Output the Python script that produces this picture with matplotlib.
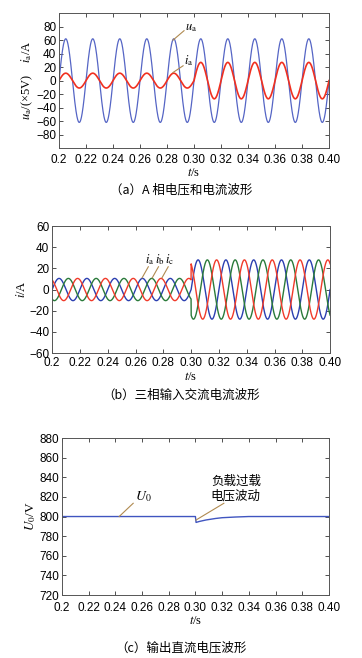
import numpy as np
import matplotlib
matplotlib.use("Agg")
import matplotlib.pyplot as plt

plt.rcParams["font.family"] = ["Liberation Sans", "Noto Sans CJK SC", "DejaVu Sans"]
plt.rcParams["mathtext.fontset"] = "stix"

# ---- data ----
freq = 50.0                     # Hz
t_step = 0.30                   # load step time (s)
ua_amp = 62.0                   # u_a amplitude (x5 V)
ia_amp = [11.0, 27.0]           # i_a amplitude before / after step (A)
iabc_amp = [10.5, 28.0]         # three-phase current amplitude before / after (A)
phase_shift = [0.0, -120.0, -240.0]   # a, b, c (deg)
phase_colors = ["#2b3fb0", "#2a7a3a", "#f03a2a"]

dc_t = [0.20, 0.300, 0.3005, 0.303, 0.308, 0.315, 0.320, 0.330, 0.340, 0.40]
dc_u = [800.0, 800.0, 794.0, 795.0, 796.5, 798.0, 798.8, 799.5, 800.0, 800.0]

xticks = [0.20, 0.22, 0.24, 0.26, 0.28, 0.30, 0.32, 0.34, 0.36, 0.38, 0.40]
xticklabels = ["0.2", "0.22", "0.24", "0.26", "0.28", "0.30", "0.32", "0.34", "0.36", "0.38", "0.40"]

t = np.linspace(0.2, 0.4, 4001)
w = 2 * np.pi * freq


def wave(amps, shift_deg):
    a = np.where(t < t_step, amps[0], amps[1])
    return a * np.sin(w * (t - 0.2) + np.deg2rad(shift_deg))


def lab(v):
    return f"{v:g}".replace("-", "\u2212")


def style(ax, yt, ylim, xpad=4):
    ax.set_xlim(0.2, 0.4)
    ax.set_ylim(*ylim)
    ax.set_xticks(xticks)
    ax.set_xticklabels(xticklabels)
    ax.set_yticks(yt)
    ax.set_yticklabels([lab(v) for v in yt])
    ax.tick_params(direction="in", top=True, right=True, length=3, width=0.6,
                   labelsize=8.5, pad=2, colors="#333333", labelcolor="black")
    ax.tick_params(axis="x", pad=xpad)
    for s in ax.spines.values():
        s.set_color("#555555")
        s.set_linewidth(0.7)
    ax.set_xlabel(r"$t$/s", fontsize=9, labelpad=1, family="Liberation Serif")


ann_c = "#b08a50"
cjk = ["Noto Sans CJK SC", "DejaVu Sans"]
fig = plt.figure(figsize=(3.62, 6.58), dpi=100)

# (a)
ax1 = fig.add_axes([0.163, 0.775, 0.746, 0.205])
ax1.plot(t, ua_amp * np.sin(w * (t - 0.2)), color="#5565c5", lw=0.9)
ax1.plot(t, wave(ia_amp, 0.0), color="#f03020", lw=1.2)
style(ax1, np.arange(-80, 81, 20), (-100, 100))
ax1.set_ylabel(r"$u_{\rm a}$/(×5V)    $i_{\rm a}$/A", fontsize=9, labelpad=1,
               family="Liberation Serif")
ax1.plot([0.2844, 0.2926], [60, 74], color=ann_c, lw=0.8)
ax1.text(0.2935, 75, r"$u_{\rm a}$", fontsize=9)
ax1.plot([0.2844, 0.2919], [12, 22], color=ann_c, lw=0.8)
ax1.text(0.2925, 25, r"$i_{\rm a}$", fontsize=9)
fig.text(0.5, 0.711, "（a）A 相电压和电流波形", ha="center", va="center", fontsize=9,
         family=cjk)

# (b)
ax2 = fig.add_axes([0.144, 0.4635, 0.768, 0.193])
for sh, c in zip(phase_shift, phase_colors):
    ax2.plot(t, wave(iabc_amp, sh), color=c, lw=1.0)
style(ax2, np.arange(-60, 61, 20), (-60, 60), xpad=3)
ax2.set_ylabel(r"$i$/A", fontsize=9, labelpad=1, family="Liberation Serif")
for x0, name in zip([0.2647, 0.272, 0.279], ["a", "b", "c"]):
    ax2.plot([x0, x0 + 0.0045], [11, 21.5], color=ann_c, lw=0.8)
    ax2.text(x0 + 0.0055, 25, r"$i_{\rm %s}$" % name, fontsize=9, ha="center")
fig.text(0.5, 0.399, "（b）三相输入交流电流波形", ha="center", va="center", fontsize=9,
         family=cjk)

# (c)
ax3 = fig.add_axes([0.171, 0.0957, 0.7376, 0.2386])
ax3.plot(dc_t, dc_u, color="#4055c0", lw=1.0)
style(ax3, np.arange(720, 881, 20), (720, 880), xpad=5)
ax3.set_ylabel(r"$U_0$/V", fontsize=9.5, labelpad=1, family="Liberation Serif")
ax3.plot([0.2429, 0.2534], [800, 813.5], color=ann_c, lw=0.8)
ax3.text(0.2545, 817, r"$U_0$", fontsize=10)
ax3.plot([0.3004, 0.3213], [796.4, 813.5], color=ann_c, lw=0.8)
ax3.text(0.3303, 828, "负载过载\n电压波动", ha="center", va="center", fontsize=9,
         linespacing=1.15, family=cjk)
fig.text(0.5, 0.015, "（c）输出直流电压波形", ha="center", va="center", fontsize=9,
         family=cjk)

fig.savefig("out.png", dpi=100)
